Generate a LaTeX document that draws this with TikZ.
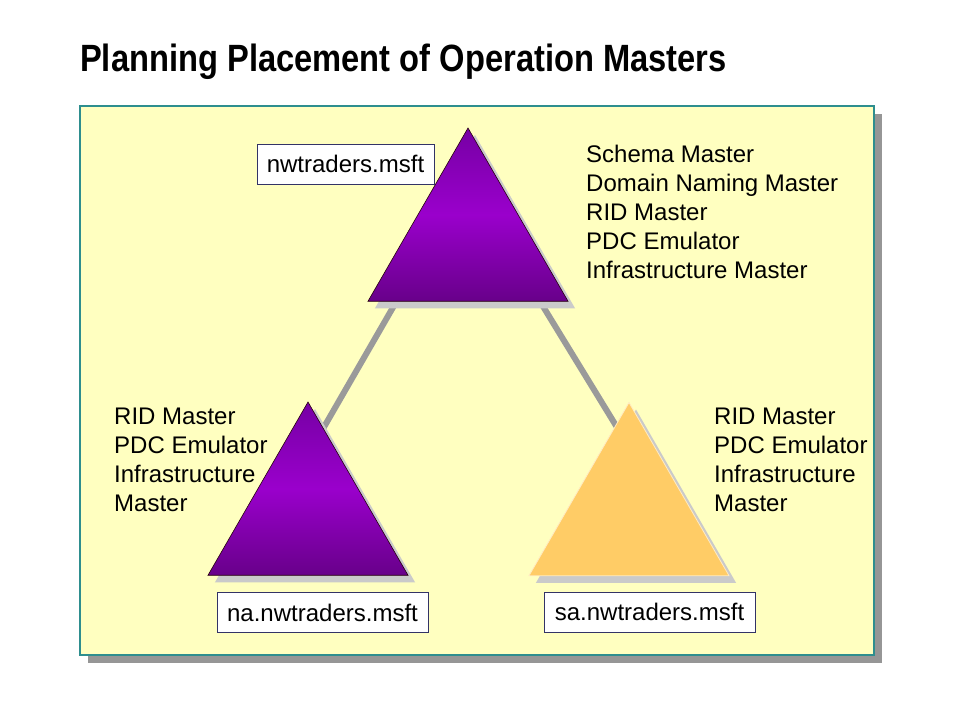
\documentclass[tikz,border=0pt]{standalone}
\usepackage{fontspec}
\setmainfont{Liberation Sans}
\newfontfamily\titlefont[FakeStretch=0.86]{Liberation Sans}
\usetikzlibrary{shapes.geometric,shadows,backgrounds}
\definecolor{panelyellow}{HTML}{FFFFC0}
\definecolor{panelline}{HTML}{2E8E8E}
\definecolor{panelshadow}{HTML}{969696}
\definecolor{trishadow}{HTML}{CACACA}
\definecolor{purpletop}{HTML}{7600A4}
\definecolor{purplemid}{HTML}{9A00CC}
\definecolor{purplebottom}{HTML}{68008A}
\definecolor{domorange}{HTML}{FFCC66}
\definecolor{linkgray}{HTML}{9A9A9A}
\definecolor{boxline}{HTML}{333366}
\tikzset{
  domaintri/.style={regular polygon, regular polygon sides=3, minimum size=231pt,
    inner sep=0pt, outer sep=0pt,
    general shadow={fill=trishadow, shadow xshift=7pt, shadow yshift=-7pt}},
  purpledomain/.style={domaintri, draw=black!80!purple, line width=0.6pt,
    top color=purpletop, bottom color=purplebottom, middle color=purplemid},
  orangedomain/.style={domaintri, fill=domorange, draw=white!60!domorange, line width=0.8pt},
  namebox/.style={draw=boxline, fill=white, line width=0.8pt, inner sep=0pt,
    minimum height=40pt, font=\fontsize{24}{29}\selectfont},
  rolelist/.style={align=left, anchor=north west, inner sep=0pt,
    font=\fontsize{24}{29}\selectfont},
  link/.style={draw=linkgray, line width=6pt}
}
\begin{document}
\begin{tikzpicture}[x=1pt, y=-1pt]
  \useasboundingbox (0,0) rectangle (960,720);
  % title
  \node[anchor=base west, inner sep=0pt, font=\titlefont\bfseries\fontsize{38}{44}\selectfont]
    (title) at (80,71) {Planning Placement of Operation Masters};
  % domain triangles
  \node[purpledomain] (root) at (468,243.5) {};
  \node[purpledomain] (na) at (308,517.5) {};
  \node[orangedomain] (sa) at (629,518) {};
  % domain names
  \node[namebox, minimum width=177pt] (rootname) at (345.5,164) {nwtraders.msft};
  \node[namebox, minimum width=211pt] (naname) at (322.5,612.5) {na.nwtraders.msft};
  \node[namebox, minimum width=211pt] (saname) at (649.5,612) {sa.nwtraders.msft};
  % roles held in each domain
  \node[rolelist] (rootroles) at (586,144.5) {Schema Master\\Domain Naming Master\\RID Master\\PDC Emulator\\Infrastructure Master};
  \node[rolelist] (naroles) at (114,407.5) {RID Master\\PDC Emulator\\Infrastructure\\Master};
  \node[rolelist] (saroles) at (714,407.5) {RID Master\\PDC Emulator\\Infrastructure\\Master};
  % link ends, hidden under the triangles
  \coordinate (rootleft) at (403,290);
  \coordinate (rootright) at (533,290);
  \coordinate (natop) at (305,460);
  \coordinate (satop) at (637,460);
  \begin{scope}[on background layer]
    \node[fill=panelyellow, draw=panelline, line width=1.5pt,
      minimum width=794pt, minimum height=549pt, inner sep=0pt,
      general shadow={fill=panelshadow, shadow xshift=8pt, shadow yshift=-8pt}]
      (panel) at (477,380.5) {};
    \draw[link] (rootleft) -- (natop);
    \draw[link] (rootright) -- (satop);
  \end{scope}
\end{tikzpicture}
\end{document}
